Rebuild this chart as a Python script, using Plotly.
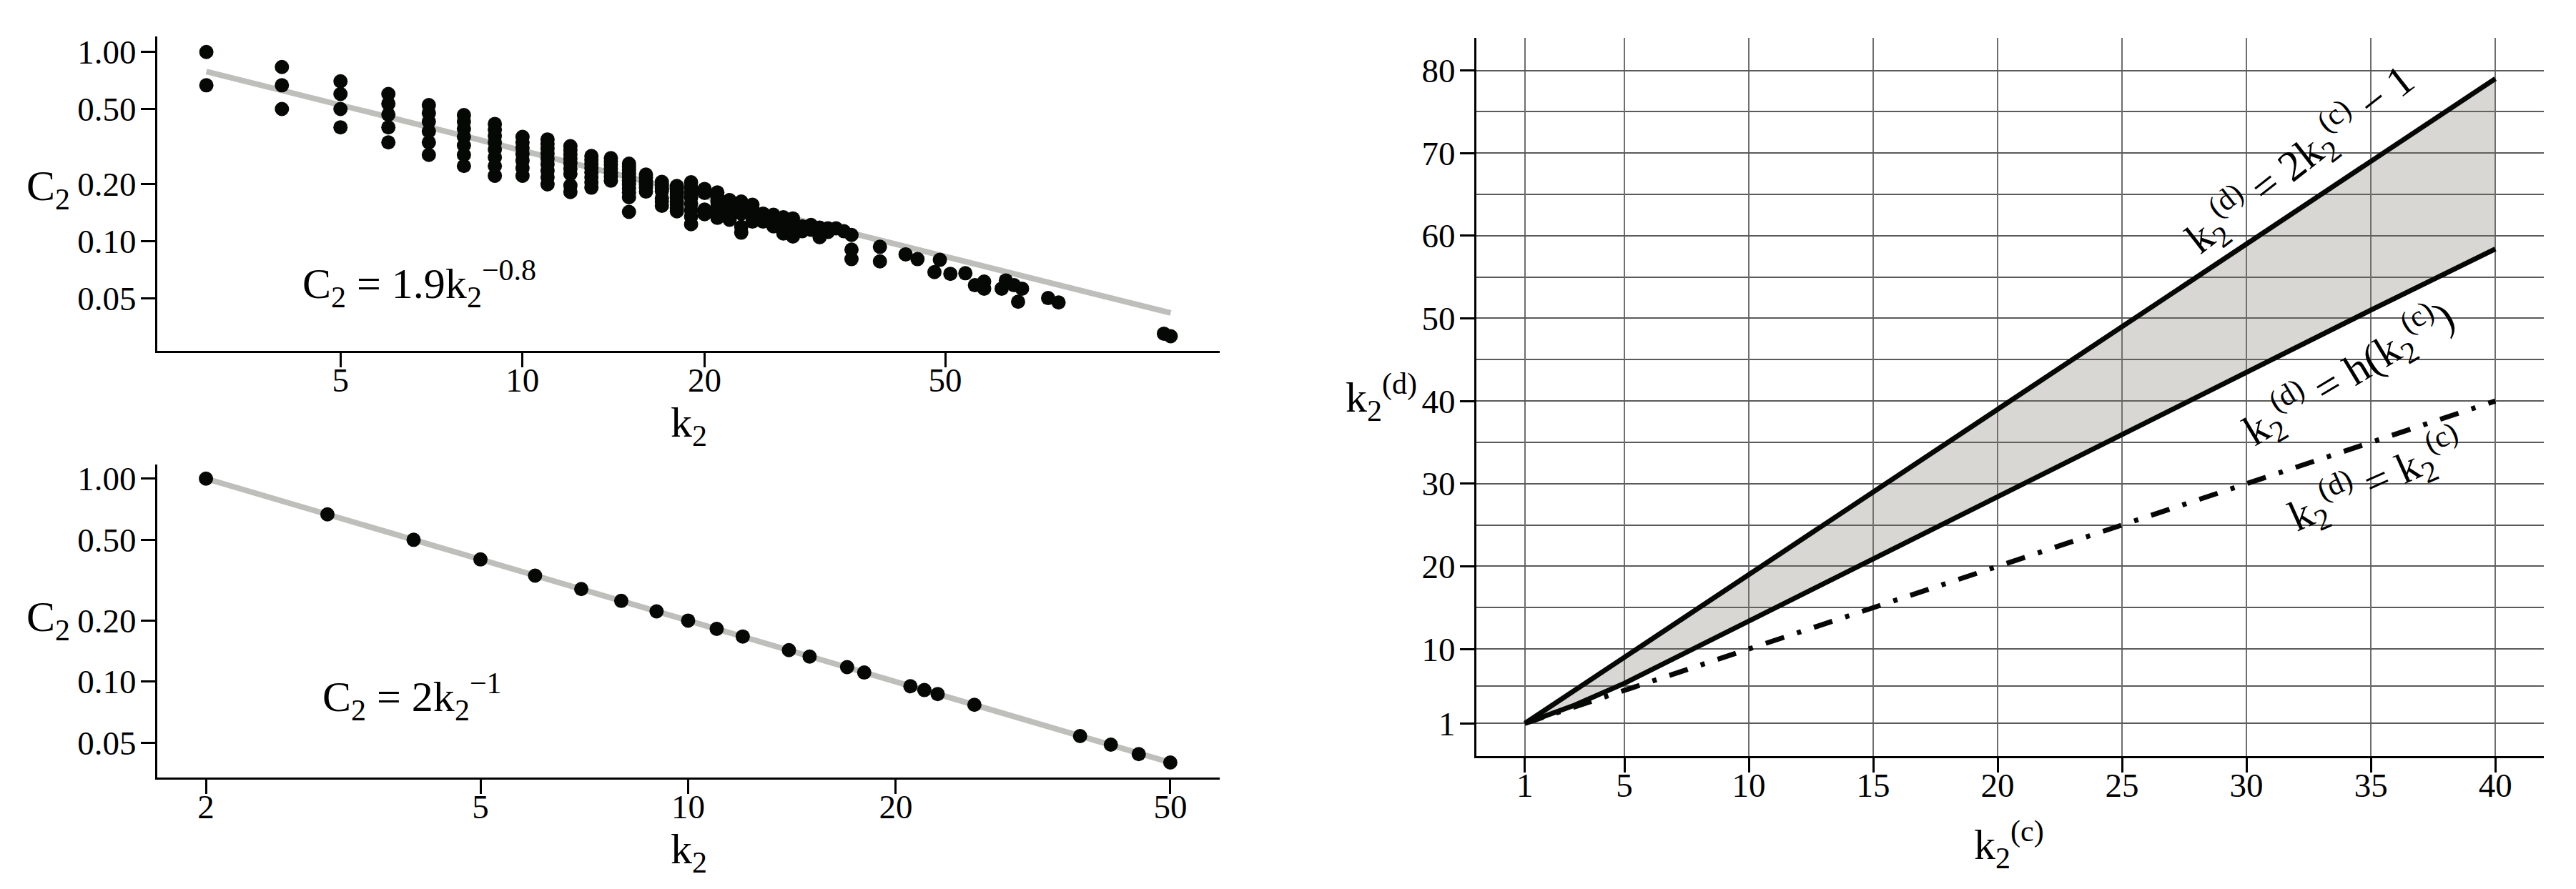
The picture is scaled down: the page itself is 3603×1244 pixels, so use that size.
import plotly.graph_objects as go

W, H = 3603, 1244
FONT = 'Liberation Serif, Times New Roman, serif'

# top-left panel: observed clustering C2 per degree k2
top_degree = [3, 4, 5, 6, 7, 8, 9, 10, 11, 12, 13, 14, 15, 16, 17, 18, 19, 20,
              21, 22, 23, 24, 25, 26, 27, 28, 29, 30, 31, 32, 33, 34, 35, 39,
              43, 45, 48, 49, 51, 54, 56, 58, 62, 63, 65, 66, 67, 74, 77, 115, 118]
top_clustering = [
    [1.0, 0.667],
    [0.833, 0.667, 0.5],
    [0.7, 0.6, 0.5, 0.4],
    [0.6, 0.533, 0.467, 0.4, 0.333],
    [0.524, 0.476, 0.429, 0.381, 0.333, 0.286],
    [0.464, 0.429, 0.393, 0.357, 0.321, 0.286, 0.25],
    [0.417, 0.389, 0.361, 0.333, 0.306, 0.278, 0.25, 0.222],
    [0.356, 0.333, 0.311, 0.289, 0.267, 0.244, 0.222],
    [0.345, 0.327, 0.309, 0.291, 0.273, 0.255, 0.236, 0.218, 0.2],
    [0.318, 0.303, 0.288, 0.273, 0.258, 0.242, 0.227, 0.197, 0.182],
    [0.282, 0.269, 0.256, 0.244, 0.231, 0.218, 0.205, 0.192],
    [0.275, 0.264, 0.253, 0.242, 0.231, 0.22, 0.209],
    [0.257, 0.248, 0.238, 0.229, 0.219, 0.21, 0.2, 0.19, 0.181, 0.171, 0.143],
    [0.225, 0.217, 0.208, 0.2, 0.192, 0.183],
    [0.206, 0.199, 0.191, 0.184, 0.169, 0.162, 0.154],
    [0.196, 0.19, 0.183, 0.176, 0.17, 0.163, 0.157, 0.15, 0.144],
    [0.205, 0.193, 0.181, 0.17, 0.158, 0.146, 0.135, 0.123],
    [0.189, 0.18, 0.147, 0.139],
    [0.181, 0.171, 0.162, 0.152, 0.143, 0.133],
    [0.165, 0.156, 0.147, 0.139, 0.13],
    [0.162, 0.15, 0.14, 0.119, 0.111],
    [0.156, 0.149, 0.141, 0.134, 0.127],
    [0.14, 0.133, 0.127],
    [0.138, 0.129, 0.12],
    [0.134, 0.125, 0.117, 0.11],
    [0.132, 0.124, 0.114, 0.106],
    [0.12, 0.113],
    [0.122, 0.115],
    [0.118, 0.105],
    [0.117, 0.112],
    [0.117],
    [0.113],
    [0.108, 0.0904, 0.0805],
    [0.0935, 0.0783],
    [0.0853],
    [0.0805],
    [0.0687],
    [0.0798],
    [0.0673],
    [0.0678],
    [0.0586],
    [0.0612, 0.0562],
    [0.0562],
    [0.0621],
    [0.0586],
    [0.0479],
    [0.0562],
    [0.0501],
    [0.0475],
    [0.0325],
    [0.0315],
]
top_fit_k = [3, 118]  # fit C2 = 1.9 k2^-0.8

# bottom-left panel
bot_degree = [2, 3, 4, 5, 6, 7, 8, 9, 10, 11, 12, 14, 15, 17, 18, 21, 22, 23, 26, 37, 41, 45, 50]
bot_clustering = [1.0, 0.667, 0.5, 0.4, 0.333, 0.286, 0.25, 0.222, 0.2, 0.182, 0.167, 0.143,
                  0.133, 0.118, 0.111, 0.095, 0.091, 0.087, 0.077, 0.054, 0.049, 0.044, 0.04]
bot_fit_k = [2, 50]  # fit C2 = 2 k2^-1

# right panel
kc_ticks = [1, 5, 10, 15, 20, 25, 30, 35, 40]
kd_ticks = [1, 10, 20, 30, 40, 50, 60, 70, 80]
kd_minor = [5.5, 15, 25, 35, 45, 55, 65, 75]
upper_k = [1, 40]
upper_v = [1, 79]
h_k = [1, 2, 3, 5, 10, 15, 20, 25, 30, 35, 40]
h_v = [1, 2.1, 3.2, 5.85, 13.4, 20.9, 28.4, 36.0, 43.5, 51.0, 58.4]
diag_k = [1, 40]
diag_v = [1, 40]

top_x = [k for k, cs in zip(top_degree, top_clustering) for _ in cs]
top_y = [c for cs in top_clustering for c in cs]

f = go.Figure()
f.add_trace(go.Scatter(x=top_fit_k, y=[1.9 * k ** -0.8 for k in top_fit_k], mode='lines',
                       line=dict(color='rgb(190,190,187)', width=8), xaxis='x', yaxis='y'))
f.add_trace(go.Scatter(x=top_x, y=top_y, mode='markers',
                       marker=dict(color='#060806', size=20), xaxis='x', yaxis='y'))
f.add_trace(go.Scatter(x=bot_fit_k, y=[2.0 / k for k in bot_fit_k], mode='lines',
                       line=dict(color='rgb(190,190,187)', width=8), xaxis='x2', yaxis='y2'))
f.add_trace(go.Scatter(x=bot_degree, y=bot_clustering, mode='markers',
                       marker=dict(color='#060806', size=20), xaxis='x2', yaxis='y2'))

f.add_trace(go.Scatter(x=h_k, y=h_v, mode='lines', line=dict(color='#060806', width=7),
                       xaxis='x3', yaxis='y3'))
f.add_trace(go.Scatter(x=upper_k, y=upper_v, mode='lines', line=dict(color='#060806', width=7),
                       fill='tonexty', fillcolor='rgba(120,116,108,0.29)', xaxis='x3', yaxis='y3'))
f.add_trace(go.Scatter(x=diag_k, y=diag_v, mode='lines',
                       line=dict(color='#060806', width=7, dash='27px,19px,6px,19px'),
                       xaxis='x3', yaxis='y3'))


def px_x(p):
    return p / W


def px_y(p):
    return 1 - p / H


ax = dict(showline=True, linecolor='black', linewidth=3, ticks='outside', ticklen=20,
          tickwidth=3, tickcolor='black', showgrid=False, zeroline=False,
          tickfont=dict(family=FONT, size=47, color='black'))
xs = dict(ax, ticklabelstandoff=-22)
ys = dict(ax, ticklabelstandoff=-3)

f.update_layout(
    width=W, height=H, margin=dict(l=0, r=0, t=0, b=0),
    paper_bgcolor='white', plot_bgcolor='white', showlegend=False,
    font=dict(family=FONT, color='black'),
    xaxis=dict(xs, type='log', domain=[px_x(212), px_x(1698)], range=[0.396, 2.153],
               tickvals=[5, 10, 20, 50], ticktext=['5', '10', '20', '50'], anchor='y'),
    yaxis=dict(ys, type='log', domain=[px_y(479), px_y(37.5)], range=[-1.578, 0.081],
               tickvals=[0.05, 0.1, 0.2, 0.5, 1.0],
               ticktext=['0.05', '0.10', '0.20', '0.50', '1.00'], anchor='x'),
    xaxis2=dict(xs, type='log', domain=[px_x(212), px_x(1698)], range=[0.2305, 1.7706],
                tickvals=[2, 5, 10, 20, 50], ticktext=['2', '5', '10', '20', '50'], anchor='y2'),
    yaxis2=dict(ys, type='log', domain=[px_y(1079), px_y(639)], range=[-1.471, 0.0698],
                tickvals=[0.05, 0.1, 0.2, 0.5, 1.0],
                ticktext=['0.05', '0.10', '0.20', '0.50', '1.00'], anchor='x2'),
    xaxis3=dict(xs, domain=[px_x(2057), px_x(3550)], range=[-0.95, 41.95],
                tickvals=kc_ticks, showgrid=True, gridcolor='#6e6e6e', gridwidth=1.5,
                anchor='y3'),
    yaxis3=dict(ys, domain=[px_y(1049), px_y(39)], range=[-2.95, 83.95],
                tickvals=kd_ticks, showgrid=True, gridcolor='#5a5a5a', gridwidth=1.8,
                minor=dict(tickvals=kd_minor, showgrid=True, gridcolor='#5a5a5a',
                           gridwidth=1.8, ticklen=0),
                anchor='x3'),
)


def ann(text, x, y, size=60, angle=0):
    f.add_annotation(text=text, x=px_x(x), y=px_y(y), xref='paper', yref='paper',
                     showarrow=False, xanchor='center', yanchor='middle', textangle=angle,
                     font=dict(family=FONT, size=size, color='black'))


ann('C<sub>2</sub>', 59, 252)
ann('k<sub>2</sub>', 955, 584)
ann('C<sub>2</sub>', 59, 858)
ann('k<sub>2</sub>', 955, 1184)
ann('C<sub>2</sub> = 1.9k<sub>2</sub><sup>−0.8</sup>', 578, 385)
ann('C<sub>2</sub> = 2k<sub>2</sub><sup>−1</sup>', 568, 966)
ann('k<sub>2</sub><sup>(d)</sup>', 1924, 545)
ann('k<sub>2</sub><sup>(c)</sup>', 2802, 1174)
ann('k<sub>2</sub><sup>(d)</sup> = 2k<sub>2</sub><sup>(c)</sup> − 1', 3208, 210, angle=-38)
ann('k<sub>2</sub><sup>(d)</sup> = h(k<sub>2</sub><sup>(c)</sup>)', 3276, 511, angle=-31)
ann('k<sub>2</sub><sup>(d)</sup> = k<sub>2</sub><sup>(c)</sup>', 3315, 662, angle=-24)

f.write_html('out.html')
